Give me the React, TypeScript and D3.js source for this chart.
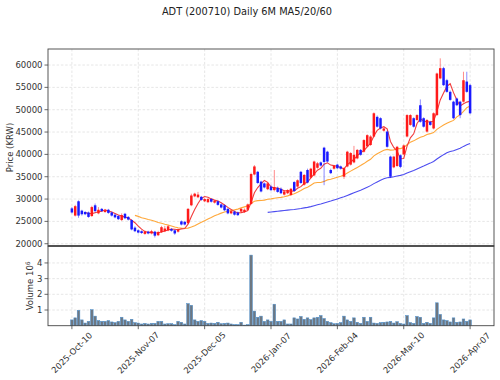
import React from "react";
import * as d3 from "d3";

const tickDates = ["2025-Oct-10", "2025-Nov-07", "2025-Dec-05", "2026-Jan-07", "2026-Feb-04", "2026-Mar-10", "2026-Apr-07"];
const tickIdx = [0, 20, 40, 60, 80, 100, 120];
const priceTicks = [20000, 25000, 30000, 35000, 40000, 45000, 50000, 55000, 60000];
const volTicks = [1, 2, 3, 4];

const open = [
  27900, 26300, 29500, 27400, 27100, 27000, 26200, 28600, 26800, 27800,
  27100, 27600, 27000, 26500, 26200, 25300, 26700, 26000, 25300, 23600,
  23000, 22800, 22200, 22700, 22300, 22700, 21900, 22600, 22800, 23000,
  23300, 23000, 22700, 25000, 24900, 24600, 28600, 30600, 30400, 30500,
  29500, 29300, 30000, 29200, 29500, 28800, 28600, 27800, 26800, 27200,
  27000, 27200, 27100, 27600, 28900, 35500, 36100, 33900, 33500, 32200,
  32800, 32000, 32500, 32300, 31000, 31300, 30900, 33800, 32800, 36100,
  33200, 36500, 34800, 35300, 37000, 38200, 41500, 40600, 36500, 36800,
  37700, 37300, 35000, 37300, 37700, 38200, 39100, 41000, 40600, 41800,
  42100, 44000, 48400, 48100, 45300, 45100, 39500, 37100, 37400, 39800,
  40000, 44000, 46600, 48100, 47700, 51000, 48100, 45100, 47300, 45800,
  48800, 57000, 59300, 56600, 54000, 51800, 52500, 51800, 51800, 56300,
  55500,
];
const high = [
  28200, 28700, 29700, 27600, 27300, 27200, 28500, 29000, 28200, 28000,
  27800, 27800, 27200, 26700, 26400, 26800, 26900, 26200, 25500, 23900,
  23200, 23000, 23000, 22900, 23100, 22900, 22900, 24000, 24000, 24200,
  23500, 23200, 23400, 25200, 25100, 28000, 31200, 31400, 31600, 30700,
  30200, 30200, 30200, 29800, 29700, 29000, 28800, 28000, 27500, 27400,
  27200, 28000, 27900, 29000, 35900, 37600, 36300, 34100, 33700, 33700,
  33200, 36500, 32800, 32600, 32000, 32200, 32500, 34000, 34400, 36300,
  35600, 36800, 37000, 38600, 38300, 38400, 41700, 40800, 36800, 37600,
  37900, 37500, 37100, 40800, 40500, 41900, 41200, 41200, 43400, 44500,
  44300, 49400, 48700, 48300, 46000, 45300, 39700, 39700, 41900, 40000,
  42200, 49000, 49000, 48300, 49000, 52300, 48300, 47900, 47500, 49400,
  58300, 61500, 59600, 56900, 54300, 52000, 52700, 52000, 58500, 58500,
  55800,
];
const low = [
  26800, 26100, 25800, 26300, 26400, 25800, 26000, 27000, 26600, 27100,
  26900, 26700, 26100, 25700, 25300, 25100, 25500, 25200, 23000, 22600,
  22300, 22200, 22000, 22100, 22100, 21400, 21700, 22400, 22600, 22800,
  22700, 22000, 22500, 24100, 24100, 24400, 28400, 30400, 30200, 29600,
  29300, 29100, 29200, 29000, 28500, 27900, 27300, 26600, 26600, 26300,
  26200, 27000, 26900, 27400, 28700, 35300, 33400, 31500, 32400, 32000,
  31800, 31700, 31400, 31100, 30800, 31100, 30700, 31600, 32600, 33400,
  33000, 33500, 34600, 35100, 36800, 37300, 33100, 38200, 35600, 36600,
  36700, 36600, 34500, 37100, 37500, 38000, 38900, 39700, 40400, 41600,
  41900, 43800, 46000, 45600, 45100, 41500, 34700, 36900, 37200, 36900,
  39800, 43800, 46400, 46000, 47500, 47100, 46000, 44900, 46400, 45600,
  48600, 56800, 55300, 53800, 52000, 47900, 50800, 48100, 51600, 53800,
  49000,
];
const close = [
  27000, 28400, 26300, 26600, 26600, 26000, 28200, 27300, 27600, 27300,
  27500, 26900, 26300, 25900, 25500, 26400, 25700, 25400, 23200, 22800,
  22500, 22400, 22700, 22300, 22800, 21800, 22600, 23700, 23400, 23900,
  22900, 22300, 23200, 24300, 24300, 27800, 30800, 31200, 31000, 29800,
  30000, 30000, 29400, 29600, 28700, 28100, 27500, 26800, 27300, 26500,
  26400, 27800, 27600, 28800, 35600, 37300, 33600, 31700, 32600, 33500,
  32000, 32700, 31600, 31300, 31700, 32000, 32300, 31800, 34200, 33600,
  35400, 33700, 36800, 38400, 38000, 37500, 38300, 38400, 35800, 37400,
  36900, 36800, 36900, 40600, 40300, 39900, 41000, 39900, 43200, 44300,
  44000, 49200, 46200, 45800, 45800, 41700, 35000, 39500, 41700, 37200,
  42000, 48800, 48800, 46200, 48800, 47300, 46200, 47700, 46600, 49200,
  58100, 59300, 55500, 54000, 52200, 48100, 51000, 48800, 56600, 54000,
  49200,
];
// volume in millions of shares
const volume = [
  0.37, 0.5, 0.98, 0.37, 0.17, 0.28, 1.02, 0.61, 0.33, 0.28,
  0.28, 0.33, 0.24, 0.2, 0.28, 0.54, 0.37, 0.28, 0.41, 0.2,
  0.17, 0.11, 0.15, 0.11, 0.15, 0.15, 0.28, 0.28, 0.11, 0.13,
  0.13, 0.07, 0.28, 0.22, 0.11, 1.41, 1.3, 0.37, 0.28, 0.33,
  0.28, 0.15, 0.17, 0.15, 0.22, 0.13, 0.15, 0.17, 0.11, 0.07,
  0.07, 0.22, 0.04, 0.07, 4.5, 0.93, 0.54, 0.61, 0.28, 0.37,
  0.28, 1.37, 0.28, 0.28, 0.37, 0.11, 0.11, 0.5, 0.43, 0.59,
  0.41, 0.5, 0.39, 0.5, 0.54, 0.65, 0.46, 0.28, 0.2, 0.13,
  0.15, 0.2, 0.61, 0.37, 0.28, 0.5, 0.22, 0.15, 0.54, 0.28,
  0.54, 0.17, 0.15, 0.2, 0.22, 0.24, 0.28, 0.17, 0.26, 0.15,
  0.11, 0.65, 0.2, 0.15, 0.59, 0.54, 0.15, 0.22, 0.15, 0.5,
  1.46, 0.72, 0.37, 0.33, 0.24, 0.5, 0.22, 0.24, 0.43, 0.28,
  0.37,
];

function movingAvg(vals: number[], n: number): [number, number][] {
  const out: [number, number][] = [];
  for (let i = n - 1; i < vals.length; i++) {
    out.push([i, d3.mean(vals.slice(i - n + 1, i + 1)) as number]);
  }
  return out;
}

const FONT = "DejaVu Sans, sans-serif";

export default function App() {
  const L = 48, R = 494, T = 49, MID = 246, B = 325.7;
  const x = d3.scaleLinear().domain([-7.2, 127.2]).range([L, R]);
  const yP = d3.scaleLinear().domain([19490, 63590]).range([MID, T]);
  const yV = d3.scaleLinear().domain([0, 5.08]).range([B, MID]);
  const bw = 2.5;
  const line = d3.line<[number, number]>().x((d) => x(d[0])).y((d) => yP(d[1]));
  const mas = [
    { n: 60, color: "#4d4df0" },
    { n: 20, color: "#ffa83a" },
    { n: 5, color: "#f23c3c" },
  ];
  const gridColor = "#e0e0e0";
  const axisColor = "#444";
  const textColor = "#333";

  return (
    <svg width={500} height={380} style={{ position: "absolute", left: 0, top: 0, background: "#fff" }} fontFamily={FONT}>
      <text x={247} y={15} textAnchor="middle" fontSize={9.8} fill="#222">
        ADT (200710) Daily 6M  MA5/20/60
      </text>
      {/* grids */}
      <g stroke={gridColor} strokeWidth={0.8} strokeDasharray="2.5,1.8">
        {tickIdx.map((t) => (
          <line key={"gv" + t} x1={x(t)} x2={x(t)} y1={T} y2={B} />
        ))}
        {priceTicks.map((p) => (
          <line key={"gp" + p} x1={L} x2={R} y1={yP(p)} y2={yP(p)} />
        ))}
        {volTicks.map((v) => (
          <line key={"gvv" + v} x1={L} x2={R} y1={yV(v)} y2={yV(v)} />
        ))}
      </g>
      {/* volume */}
      <g>
        {volume.map((v, i) => (
          <rect key={"v" + i} x={x(i) - 1.33} width={2.66} y={yV(v)} height={yV(0) - yV(v)}
            fill="#6e7781" stroke="#4a90d0" strokeWidth={0.5} />
        ))}
      </g>
      {/* MA lines */}
      {mas.map((m) => (
        <path key={"ma" + m.n} d={line(movingAvg(close, m.n)) || ""} fill="none" stroke={m.color} strokeWidth={1.1} />
      ))}
      {/* candles */}
      <g>
        {close.map((c, i) => {
          const o = open[i];
          const up = c >= o;
          const col = up ? "#ff1a1a" : "#1a1aff";
          const top = yP(Math.max(o, c));
          const h = Math.max(0.8, Math.abs(yP(o) - yP(c)));
          return (
            <g key={"c" + i}>
              <line x1={x(i)} x2={x(i)} y1={yP(high[i])} y2={yP(low[i])} stroke={col} strokeOpacity={0.5} strokeWidth={1} />
              <rect x={x(i) - bw / 2} width={bw} y={top} height={h} fill={col} />
            </g>
          );
        })}
      </g>
      {/* frames */}
      <rect x={L} y={T} width={R - L} height={MID - T} fill="none" stroke={axisColor} strokeWidth={0.9} />
      <rect x={L} y={MID} width={R - L} height={B - MID} fill="none" stroke={axisColor} strokeWidth={0.9} />
      <line x1={L} x2={R} y1={MID} y2={MID} stroke={axisColor} strokeWidth={1.4} />
      {/* y ticks price */}
      {priceTicks.map((p) => (
        <g key={"tp" + p}>
          <line x1={L - 3.5} x2={L} y1={yP(p)} y2={yP(p)} stroke={axisColor} strokeWidth={0.8} />
          <text x={L - 5.5} y={yP(p)} dy="0.35em" textAnchor="end" fontSize={8.5} fill={textColor}>{p}</text>
        </g>
      ))}
      {volTicks.map((v) => (
        <g key={"tv" + v}>
          <line x1={L - 3.5} x2={L} y1={yV(v)} y2={yV(v)} stroke={axisColor} strokeWidth={0.8} />
          <text x={L - 5.5} y={yV(v)} dy="0.35em" textAnchor="end" fontSize={8.5} fill={textColor}>{v}</text>
        </g>
      ))}
      {/* x ticks */}
      {tickIdx.map((t, k) => (
        <g key={"tx" + t}>
          <line x1={x(t)} x2={x(t)} y1={B} y2={B + 3.5} stroke={axisColor} strokeWidth={0.8} />
          <text transform={`translate(${x(t)},${B + 27}) rotate(-45)`} textAnchor="middle" dominantBaseline="central" fontSize={8.5} fill={textColor}>
            {tickDates[k]}
          </text>
        </g>
      ))}
      <text transform={`translate(10,${(T + MID) / 2}) rotate(-90)`} textAnchor="middle" dominantBaseline="central" fontSize={8.5} fill={textColor}>
        Price (KRW)
      </text>
      <text transform={`translate(30,${(MID + B) / 2}) rotate(-90)`} textAnchor="middle" dominantBaseline="central" fontSize={8.5} fill={textColor}>
        Volume   10<tspan dy="-0.45em" fontSize={6}>6</tspan>
      </text>
    </svg>
  );
}
